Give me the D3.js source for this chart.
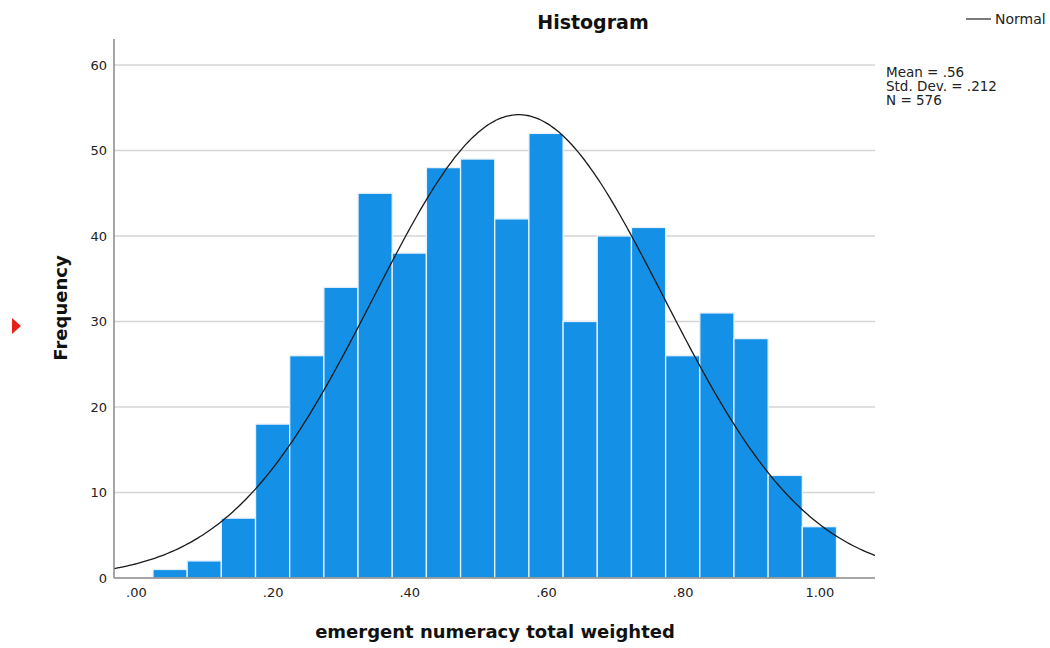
<!DOCTYPE html>
<html><head><meta charset="utf-8">
<script src="https://cdn.jsdelivr.net/npm/d3@7"></script>
<style>
body{margin:0;background:#fff;}
svg{display:block;font-family:"DejaVu Sans",sans-serif;}
</style></head>
<body>
<svg id="c" width="1050" height="648"></svg>
<script>
// ---- data ----
const binStarts = [0.025,0.075,0.125,0.175,0.225,0.275,0.325,0.375,0.425,0.475,0.525,0.575,0.625,0.675,0.725,0.775,0.825,0.875,0.925,0.975];
const counts    = [1,2,7,18,26,34,45,38,48,49,42,52,30,40,41,26,31,28,12,6];
const binWidth = 0.05;
const xTickValues = [0,0.2,0.4,0.6,0.8,1.0];
const xTickLabels = [".00",".20",".40",".60",".80","1.00"];
const yTickValues = [0,10,20,30,40,50,60];
const statMean = 0.56, statSD = 0.212, statN = 576;
const statLines = ["Mean = .56","Std. Dev. = .212","N = 576"];

// ---- layout ----
const svg = d3.select("#c");
const L = 114, R = 875, T = 39, B = 578;
const x = d3.scaleLinear().domain([0.025,1.025]).range([153,836.5]);
const xDomain = [x.invert(L), x.invert(R)];
const y = d3.scaleLinear().domain([0,60]).range([B,65]);

// gridlines
svg.append("g").selectAll("line").data(yTickValues.filter(d=>d>0)).join("line")
  .attr("x1",L).attr("x2",R).attr("y1",d=>y(d)).attr("y2",d=>y(d))
  .attr("stroke","#d4d4d4").attr("stroke-width",1.5);

// bars
svg.append("g").selectAll("rect").data(counts).join("rect")
  .attr("x",(d,i)=>x(binStarts[i]))
  .attr("width",(d,i)=>x(binStarts[i]+binWidth)-x(binStarts[i]))
  .attr("y",d=>y(d)).attr("height",d=>B-y(d))
  .attr("fill","#1490e6").attr("stroke","#e6f1fb").attr("stroke-width",1.3);

// normal curve
const pdf = v => Math.exp(-0.5*Math.pow((v-statMean)/statSD,2))/(statSD*Math.sqrt(2*Math.PI));
const pts = d3.range(0,301).map(i=>{const v = xDomain[0]+(xDomain[1]-xDomain[0])*i/300; return [v, statN*binWidth*pdf(v)];});
svg.append("path").datum(pts)
  .attr("d", d3.line().x(d=>x(d[0])).y(d=>y(d[1])).curve(d3.curveBasis))
  .attr("fill","none").attr("stroke","#1a1a1a").attr("stroke-width",1.3);

// axes
const yAxis = d3.axisLeft(y).tickValues(yTickValues).tickSize(0).tickPadding(7).tickFormat(d3.format("d"));
const gy = svg.append("g").attr("transform",`translate(${L},0)`).call(yAxis);
gy.select(".domain").remove();
gy.selectAll("text").attr("font-size",13).attr("fill","#222").attr("font-family","DejaVu Sans");
svg.append("line").attr("x1",L).attr("x2",L).attr("y1",T).attr("y2",B).attr("stroke","#888").attr("stroke-width",1.5);

const xAxis = d3.axisBottom(x).tickValues(xTickValues).tickSize(0).tickPadding(10)
  .tickFormat((d,i)=>xTickLabels[i]);
const gx = svg.append("g").attr("transform",`translate(0,${B})`).call(xAxis);
gx.select(".domain").remove();
gx.selectAll("text").attr("font-size",13).attr("fill","#222").attr("font-family","DejaVu Sans");
svg.append("line").attr("x1",L).attr("x2",R).attr("y1",B).attr("y2",B).attr("stroke","#888").attr("stroke-width",1.5);

// title
svg.append("text").attr("x",593).attr("y",29).attr("text-anchor","middle")
  .attr("font-size",19).attr("font-weight","bold").attr("fill","#111").text("Histogram");

// axis titles
svg.append("text").attr("x",495).attr("y",638).attr("text-anchor","middle")
  .attr("font-size",18).attr("font-weight","bold").attr("fill","#111").text("emergent numeracy total weighted");
svg.append("text").attr("transform","translate(67,308) rotate(-90)").attr("text-anchor","middle")
  .attr("font-size",18).attr("font-weight","bold").attr("fill","#111").text("Frequency");

// legend
svg.append("line").attr("x1",966).attr("x2",991).attr("y1",19).attr("y2",19).attr("stroke","#333").attr("stroke-width",1.3);
svg.append("text").attr("x",995).attr("y",24).attr("font-size",14).attr("fill","#222").text("Normal");

// stats
svg.append("g").selectAll("text").data(statLines).join("text")
  .attr("x",886).attr("y",(d,i)=>77+i*14).attr("font-size",13.5).attr("fill","#222").text(d=>d);

// red marker
svg.append("path").attr("d","M12,318 L21,326 L12,334 Z").attr("fill","#e8201a");
</script>
</body></html>
